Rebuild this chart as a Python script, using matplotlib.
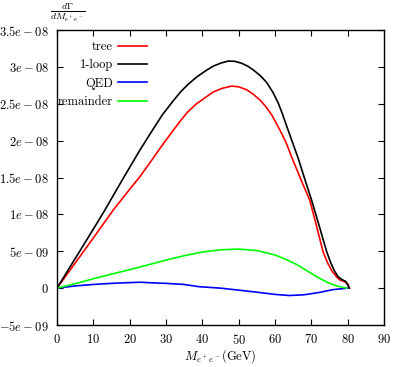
import numpy as np
import matplotlib
matplotlib.use("Agg")
import matplotlib.pyplot as plt

plt.rcParams['mathtext.fontset'] = 'cm'
plt.rcParams['font.family'] = 'serif'
plt.rcParams['font.serif'] = ['cmr10', 'DejaVu Serif']
plt.rcParams['axes.formatter.use_mathtext'] = True

# --- data (tree, 1-loop, remainder in 1e-9; QED in 1e-10) ---
tree_x = [0, 5, 10, 15.5, 20, 22.8, 26, 29, 32, 34, 36, 38.4, 41, 43, 45.5,
          48.1, 50, 52.2, 54, 55.9, 57.5, 59.1, 61.4, 63, 64.9, 66, 67.5, 69,
          69.6, 71.4, 73.2, 74.5, 75.6, 77, 77.9, 79, 80, 80.5]
tree_y = [0, 3.4, 6.8, 10.6, 13.4, 15.1, 17.3, 19.4, 21.4, 22.7, 23.9, 25.0,
          25.9, 26.6, 27.1, 27.4, 27.3, 26.9, 26.3, 25.5, 24.6, 23.5, 21.4,
          19.8, 17.4, 16.1, 14.3, 12.6, 11.9, 8.5, 5.0, 3.4, 2.4, 1.5, 1.1,
          0.9, 0.6, 0]

loop_x = [0, 5, 10, 13.2, 18, 22.8, 26, 29, 32, 34, 36, 38.4, 41, 43, 45,
          47.2, 49, 50.8, 52.5, 54, 56, 57.7, 59.5, 60.9, 62, 63.2, 64.8, 66.4,
          68.2, 70.1, 72.2, 74.2, 75.3, 76.3, 77.3, 78.3, 79.5, 80.5]
loop_y = [0, 4.0, 8.0, 10.6, 14.7, 18.7, 21.2, 23.5, 25.4, 26.6, 27.6, 28.6,
          29.5, 30.1, 30.5, 30.8, 30.75, 30.5, 30.1, 29.6, 28.8, 27.9, 26.5,
          25.1, 23.7, 22.0, 19.8, 17.6, 14.8, 11.9, 8.4, 5.0, 3.5, 2.4, 1.6,
          1.2, 0.9, 0]

qed_x = [0, 5, 10, 15, 20, 23, 27, 30, 35, 39, 45, 50, 55, 60, 64, 68, 72,
         76, 78, 80]
qed_y = [0, 3, 5, 6.5, 7.5, 8, 7, 6.5, 5, 2, 0, -2.7, -5.5, -8.5, -10, -9,
         -6, -2, -1, 0]

rem_x = [0, 5, 10, 15, 20, 25, 30, 35, 40, 45, 50, 55, 60, 63, 66, 69, 72,
         75, 77, 79.7]
rem_y = [0, 0.6, 1.27, 1.9, 2.5, 3.15, 3.8, 4.4, 4.9, 5.2, 5.3, 5.1, 4.5,
         3.9, 3.2, 2.3, 1.4, 0.65, 0.3, 0]

x_ticks = [0, 10, 20, 30, 40, 50, 60, 70, 80, 90]
y_ticks = [-5e-9, 0, 5e-9, 1e-8, 1.5e-8, 2e-8, 2.5e-8, 3e-8, 3.5e-8]
y_labels = [r'$-5e-09$', r'$0$', r'$5e-09$', r'$1e-08$', r'$1.5e-08$',
            r'$2e-08$', r'$2.5e-08$', r'$3e-08$', r'$3.5e-08$']

fig = plt.figure(figsize=(3.93, 3.67), dpi=100)
ax = fig.add_axes([0.145, 0.1144, 0.832, 0.8038])

lw = 1.2
ax.plot(tree_x, np.array(tree_y) * 1e-9, color='#ff0000', lw=lw, label='tree')
ax.plot(loop_x, np.array(loop_y) * 1e-9, color='black', lw=lw, label='1-loop')
ax.plot(qed_x, np.array(qed_y) * 1e-10, color='#0000ff', lw=lw, label='QED')
ax.plot(rem_x, np.array(rem_y) * 1e-9, color='#00ff00', lw=lw,
        label='remainder')

ax.set_xlim(0, 90)
ax.set_ylim(-5e-9, 3.5e-8)
ax.set_xticks(x_ticks)
ax.set_xticklabels([rf'${v}$' for v in x_ticks])
ax.set_yticks(y_ticks)
ax.set_yticklabels(y_labels)
ax.tick_params(direction='in', top=True, right=True, length=4, width=0.8,
               labelsize=9, pad=6)
for s in ax.spines.values():
    s.set_linewidth(1.0)

ax.set_xlabel(r'$M_{e^+e^-}$(GeV)', fontsize=9, labelpad=0)
fig.text(0.173, 0.966, r'$\frac{d\Gamma}{dM_{e^+e^-}}$', fontsize=10,
         ha='center', va='center')

leg = ax.legend(loc='upper right', bbox_to_anchor=(0.29, 0.98), frameon=False,
                markerfirst=False, handlelength=2.3, handletextpad=0.4,
                labelspacing=0.5, fontsize=9, borderaxespad=0.0)
for t in leg.get_texts():
    t.set_ha('right')

fig.savefig('out.png', dpi=100)
